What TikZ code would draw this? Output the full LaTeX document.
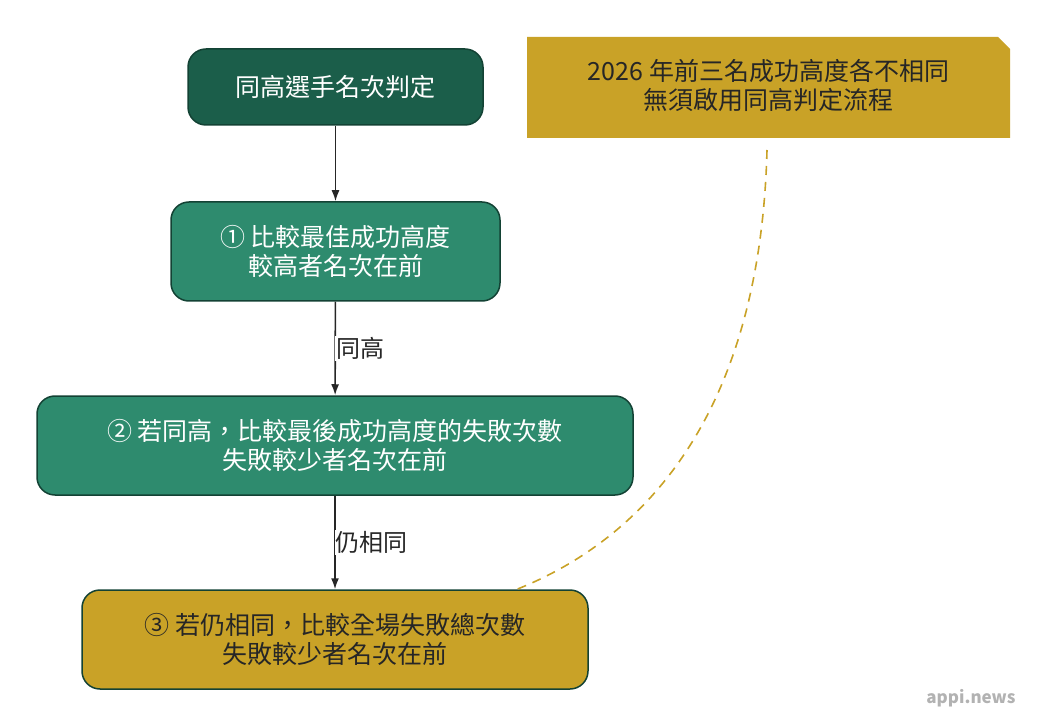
\documentclass[tikz,border=0pt]{standalone}
\usepackage{fontspec}
\setmainfont{Noto Sans CJK TC}
\begin{document}
\begin{tikzpicture}[x=1pt,y=-1pt,
  box/.style={rounded corners=18pt,draw=#1!70!black,line width=1.5pt,align=center,font=\fontsize{25}{29}\selectfont,inner sep=0pt},
  arr/.style={-{Latex[length=11pt,width=8pt]},line width=1.6pt,draw=black!85},
  lab/.style={font=\fontsize{24}{28}\selectfont,text=black!85,fill=white,inner sep=1pt}]
\usetikzlibrary{arrows.meta}
\useasboundingbox (0,0) rectangle (1047,727);
\definecolor{dg}{HTML}{1B5E4A}\definecolor{mg}{HTML}{2E8B6E}\definecolor{gd}{HTML}{C9A227}
\node[box=dg,fill=dg,text=white,minimum width=295pt,minimum height=76pt] (t) at (335.5,87) {同高選手名次判定};
\node[box=dg,fill=mg,text=white,minimum width=329pt,minimum height=99pt] (a) at (335.5,251.5) {① 比較最佳成功高度\\較高者名次在前};
\node[box=dg,fill=mg,text=white,minimum width=596pt,minimum height=99pt] (b) at (335,445.5) {② 若同高，比較最後成功高度的失敗次數\\失敗較少者名次在前};
\node[box=dg,fill=gd,text=black!85,minimum width=506pt,minimum height=99pt] (c) at (335,639.5) {③ 若仍相同，比較全場失敗總次數\\失敗較少者名次在前};
\draw[arr] (t) -- (a);
\draw[arr] (a) -- node[lab,right,xshift=-1pt]{同高} (b);
\draw[arr] (b) -- node[lab,right,xshift=-1pt]{仍相同} (c);
\fill[gd] (527,37) -- (998,37) -- (1010,49) -- (1010,138) -- (527,138) -- cycle;
\node[align=center,font=\fontsize{25}{29}\selectfont,text=black!85] (n) at (768.5,85) {2026 年前三名成功高度各不相同\\無須啟用同高判定流程};
\coordinate (n1) at (767,150);
\draw[gd,line width=1.6pt,dash pattern=on 9pt off 7pt] (n1) .. controls (760,420) and (640,540) .. (c.north east -| 517,590);
\node[font=\bfseries\fontsize{17}{20}\selectfont,text=black!30] (w) at (971,698) {appi.news};
\end{tikzpicture}
\end{document}
